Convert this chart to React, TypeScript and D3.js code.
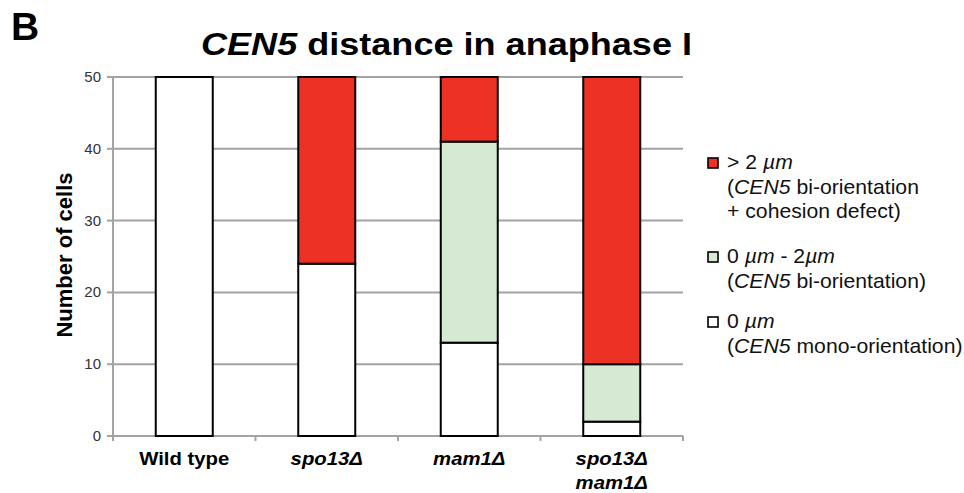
import React from "react";
import * as d3 from "d3";

// Strains on the x axis (second line of a label goes after "|")
const strains = ["Wild type", "spo13Δ", "mam1Δ", "spo13Δ|mam1Δ"];
const italicStrain = [false, true, true, true];

// Cells per CEN5 distance class, per strain
const monoOrientation = [50, 24, 13, 2]; // 0 µm
const biOrientation = [0, 0, 28, 8]; // 0 µm - 2 µm
const cohesionDefect = [0, 26, 9, 40]; // > 2 µm

const yTicks = [0, 10, 20, 30, 40, 50];

const keys = ["mono", "bi", "cohesion"] as const;
const fills: Record<string, string> = {
  mono: "#ffffff",
  bi: "#d6e9d2",
  cohesion: "#ee3125",
};

const FONT = "'Liberation Sans', Arial, Helvetica, sans-serif";

export default function App() {
  const width = 964;
  const height = 493;
  const left = 113;
  const right = 683;
  const top = 77;
  const bottom = 436;

  const rows = strains.map((s, i) => ({
    strain: s,
    mono: monoOrientation[i],
    bi: biOrientation[i],
    cohesion: cohesionDefect[i],
  }));

  const x = d3
    .scaleBand<string>()
    .domain(strains)
    .range([left, right])
    .paddingInner(0.6)
    .paddingOuter(0.3);
  const y = d3.scaleLinear().domain([0, 50]).range([bottom, top]);

  const stacked = d3.stack<any>().keys(keys as any)(rows);

  const step = x.step();
  const boundaries = d3.range(strains.length + 1).map((i) => left + i * step);

  const legend = [
    { key: "cohesion", lines: [["> 2 ", "µm"], ["(", "CEN5", " bi-orientation"], ["+ cohesion defect)"]], y: 169 },
    { key: "bi", lines: [["0 ", "µm", " - 2", "µm"], ["(", "CEN5", " bi-orientation)"]], y: 263 },
    { key: "mono", lines: [["0 ", "µm"], ["(", "CEN5", " mono-orientation)"]], y: 328 },
  ];

  return (
    <svg
      width={width}
      height={height}
      style={{ position: "absolute", left: 0, top: 0, background: "#fff" }}
      fontFamily={FONT}
    >
      {/* Panel letter */}
      <text x={11} y={40} fontSize={39} fontWeight="bold" fill="#000">
        B
      </text>

      {/* Title */}
      <text x={201} y={55} fontSize={31} fontWeight="bold" fill="#000" textLength={491} lengthAdjust="spacingAndGlyphs">
        <tspan fontStyle="italic">CEN5</tspan> distance in anaphase I
      </text>

      {/* Gridlines */}
      {yTicks
        .filter((t) => t > 0)
        .map((t) => (
          <line key={t} x1={left} x2={right} y1={y(t)} y2={y(t)} stroke="#a3a3a3" strokeWidth={2} />
        ))}

      {/* Y axis */}
      <line x1={left} x2={left} y1={top - 1} y2={bottom + 1} stroke="#a3a3a3" strokeWidth={2} />
      {yTicks.map((t) => (
        <g key={t}>
          <line x1={left - 6} x2={left} y1={y(t)} y2={y(t)} stroke="#a3a3a3" strokeWidth={2} />
          <text x={left - 12} y={y(t) + 5} fontSize={15} fill="#333" textAnchor="end">
            {t}
          </text>
        </g>
      ))}

      {/* X axis */}
      <line x1={left} x2={right} y1={bottom} y2={bottom} stroke="#a3a3a3" strokeWidth={2} />
      {boundaries.map((b, i) => (
        <line key={i} x1={b} x2={b} y1={bottom} y2={bottom + 5} stroke="#a3a3a3" strokeWidth={2} />
      ))}

      {/* Stacked bars */}
      {stacked.map((series) =>
        series.map((d, i) =>
          d[1] - d[0] > 0 ? (
            <rect
              key={series.key + i}
              x={x(strains[i])}
              width={x.bandwidth()}
              y={y(d[1])}
              height={y(d[0]) - y(d[1])}
              fill={fills[series.key]}
              stroke="#000"
              strokeWidth={2}
            />
          ) : null
        )
      )}

      {/* Category labels */}
      {strains.map((s, i) => {
        const cx = (x(s) as number) + x.bandwidth() / 2;
        return s.split("|").map((line, j) => (
          <text
            key={s + j}
            transform={`translate(${cx},${465 + j * 24}) scale(1.07,1)`}
            fontSize={19}
            fontWeight="bold"
            fontStyle={italicStrain[i] ? "italic" : "normal"}
            textAnchor="middle"
            fill="#000"
          >
            {line}
          </text>
        ));
      })}

      {/* Y axis title */}
      <text
        transform={`translate(72,255) rotate(-90)`}
        fontSize={22}
        fontWeight="bold"
        textAnchor="middle"
        fill="#000"
      >
        Number of cells
      </text>

      {/* Legend */}
      {legend.map((item) => (
        <g key={item.key}>
          <rect x={708} y={item.y - 11} width={10} height={10} fill={fills[item.key]} stroke="#000" strokeWidth={1.6} />
          {item.lines.map((parts, j) => (
            <text
              key={j}
              transform={`translate(727,${item.y + j * 24.5}) scale(1.06,1)`}
              fontSize={20}
              fill="#111"
            >
              {parts.map((p, k) => (
                <tspan key={k} fontStyle={p === "µm" || p === "CEN5" ? "italic" : "normal"}>
                  {p}
                </tspan>
              ))}
            </text>
          ))}
        </g>
      ))}
    </svg>
  );
}
